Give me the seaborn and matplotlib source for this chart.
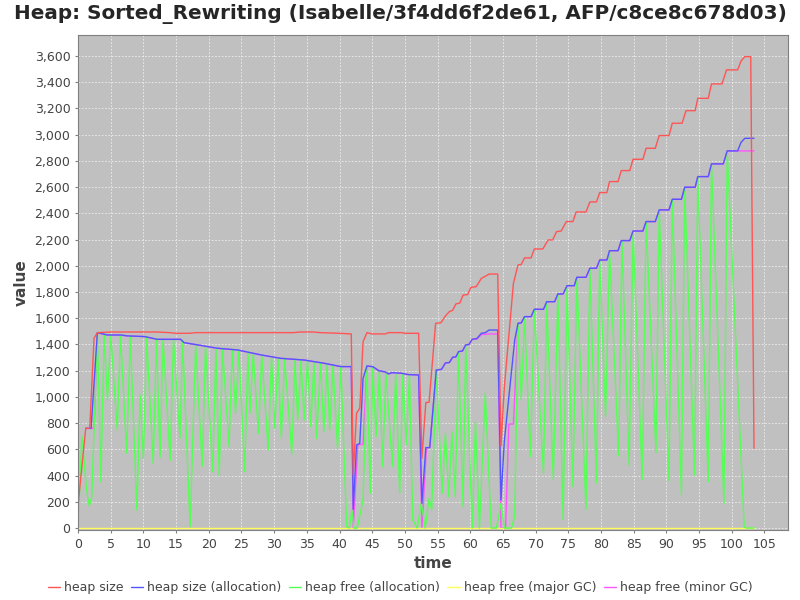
import matplotlib
matplotlib.use("Agg")
import matplotlib.pyplot as plt
import matplotlib.ticker as mticker
import seaborn as sns
import pandas as pd

# heap size
size_t = [0.0, 1.18, 1.8, 2.45, 2.96, 5, 12, 14, 15, 17, 18, 33, 34, 36, 37, 40, 41.8,
          42.1, 42.6, 43.1, 43.6, 44.2, 45.0, 47.0, 47.5, 49.5, 50.0, 52.1,
          52.6, 53.2, 53.7, 54.7, 55.5, 56.2, 56.8, 57.3, 57.8, 58.4, 58.9, 59.6, 60.1, 60.9,
          61.7, 62.3, 62.9, 64.2, 64.7, 65.2, 66.6, 67.3, 67.8, 68.3, 69.3, 69.8, 71.1,
          71.9, 72.6, 73.2, 73.9, 74.7, 75.7, 76.2, 77.7, 78.3, 79.3, 79.8, 80.9, 81.3, 82.6,
          83.1, 84.4, 84.9, 86.4, 86.9, 88.3, 88.9, 90.4, 90.9, 92.4, 93.0, 94.4, 94.8, 96.4,
          96.9, 98.5, 99.2, 100.9, 101.4, 102.0, 102.9, 103.4]
size_v = [170, 760, 760, 1447, 1490, 1495, 1495, 1490, 1485, 1485, 1490, 1490, 1495, 1495, 1490, 1485, 1480,
          404, 875, 913, 1421, 1490, 1480, 1480, 1490, 1490, 1485, 1485,
          531, 956, 960, 1561, 1565, 1617, 1650, 1660, 1709, 1715, 1777, 1780, 1836, 1840,
          1904, 1920, 1937, 1937, 625, 1068, 1866, 2006, 2010, 2060, 2060, 2128, 2128,
          2197, 2197, 2260, 2265, 2337, 2337, 2410, 2410, 2487, 2487, 2558, 2558, 2642, 2642,
          2726, 2726, 2812, 2812, 2896, 2896, 2993, 2993, 3087, 3087, 3183, 3183, 3277, 3277,
          3387, 3387, 3494, 3494, 3560, 3595, 3595, 608]

# heap size (allocation)
alloc_t = [1.18, 2.0, 2.96, 4.5, 6.5, 7.6, 10.2, 12.1, 15.7, 16.2, 19.3, 21.3, 24.4, 28.0, 31.0,
           34.6, 37.7, 40.2, 41.8, 42.1, 42.6, 43.1, 43.6, 44.2, 45.1, 46.0, 47.0, 47.5, 48.0,
           49.5, 50.5, 52.1, 52.6, 53.2, 53.8, 54.8, 55.6, 56.2, 56.8, 57.3, 57.8, 58.2, 58.8,
           59.3, 59.8, 60.3, 61.0, 61.7, 62.3, 62.9, 64.2, 64.7, 65.2, 66.8, 67.3, 67.8, 68.3,
           69.3, 69.8, 71.2, 71.7, 72.9, 73.4, 74.2, 74.8, 75.9, 76.3, 77.7, 78.3, 79.3, 79.8,
           80.9, 81.3, 82.6, 83.1, 84.4, 84.9, 86.4, 86.9, 88.3, 88.9, 90.4, 90.9, 92.3, 92.8,
           94.4, 94.8, 96.4, 96.9, 98.7, 99.3, 100.9, 101.4, 102.0, 103.4]
alloc_v = [760, 760, 1490, 1472, 1472, 1465, 1460, 1439, 1439, 1414, 1388, 1371, 1358, 1320, 1294,
           1281, 1256, 1231, 1231, 143, 633, 646, 1142, 1236, 1230, 1200, 1190, 1175, 1185,
           1180, 1170, 1167, 188, 613, 613, 1205, 1210, 1259, 1262, 1302, 1305, 1345, 1350,
           1396, 1400, 1439, 1445, 1485, 1490, 1510, 1510, 213, 658, 1434, 1561, 1565, 1612,
           1612, 1668, 1668, 1726, 1726, 1785, 1785, 1848, 1848, 1912, 1912, 1981, 1981, 2044,
           2044, 2115, 2115, 2192, 2192, 2265, 2265, 2337, 2337, 2426, 2426, 2507, 2507, 2599,
           2599, 2680, 2680, 2777, 2777, 2876, 2876, 2940, 2972, 2972]

# heap free (allocation)
free_t = [0.0, 0.6, 1.3, 1.7, 2.1, 2.96, 3.5, 4.0, 4.5, 5.0, 6.0, 6.5, 7.45, 8.0, 9.0, 9.5, 10.0,
          10.5, 11.5, 12.0, 12.55, 13.0, 14.1, 14.6, 15.6, 16.0, 17.15, 18.0, 19.0, 19.5, 20.6,
          21.1, 21.6, 22.1, 23.1, 23.6, 24.1, 24.6, 25.5, 26.0, 26.3, 26.8, 27.6, 28.1, 29.1,
          29.6, 30.1, 30.6, 31.1, 31.6, 32.7, 33.2, 33.6, 34.1, 34.6, 35.1, 35.6, 36.1, 36.5,
          37.1, 37.6, 38.1, 38.5, 39.0, 39.7, 40.2, 41.1, 41.5, 41.9, 42.2, 42.7, 43.6, 44.2,
          44.7, 45.1, 45.6, 46.1, 46.6, 47.1, 48.1, 48.6, 49.2, 49.7, 50.2, 50.7, 51.2, 51.9,
          52.5, 53.1, 53.7, 54.1, 54.8, 55.7, 56.2, 56.7, 57.2, 57.7, 58.2, 58.9, 59.3, 60.3,
          60.8, 61.4, 62.3, 63.2, 64.0, 64.7, 65.2, 66.3, 66.8, 67.3, 67.8, 68.3, 69.2, 69.8,
          71.2, 71.7, 72.7, 73.4, 74.2, 74.8, 75.7, 76.3, 77.7, 78.3, 79.3, 79.8, 80.7, 81.3,
          82.7, 83.2, 84.3, 84.9, 86.3, 86.9, 88.4, 88.9, 90.4, 90.9, 92.3, 92.8, 94.3, 94.8,
          96.4, 96.9, 98.8, 99.3, 101.9, 102.2, 103.4]
free_v = [0, 700, 300, 170, 230, 1490, 353, 1480, 976, 1475, 747, 1472, 572, 1465, 137, 1014, 530,
          1458, 490, 1445, 540, 1439, 515, 1439, 684, 1430, 10, 1400, 470, 1388, 430,
          1375, 400, 1370, 620, 1365, 875, 1358, 430, 1345, 875, 1335, 720, 1320, 595,
          1305, 760, 1298, 685, 1294, 565, 1290, 824, 1283, 824, 1280, 773, 1270, 684,
          1262, 735, 1250, 747, 1240, 608, 1231, 10, 0, 137, 0, 0, 213, 1236,
          264, 1230, 697, 1200, 468, 1190, 468, 1185, 264, 1180, 633, 1170, 61, 0,
          190, 0, 226, 137, 1205, 264, 722, 239, 735, 239, 1345, 163, 1396, 0,
          811, 0, 1027, 0, 0, 188, 0, 0, 86, 1561, 976, 1612, 544, 1668,
          417, 1726, 372, 1785, 66, 1848, 315, 1912, 143, 1981, 346, 2044, 849, 2115,
          549, 2192, 480, 2265, 372, 2337, 575, 2426, 361, 2507, 252, 2599, 404, 2680,
          353, 2777, 188, 2876, 10, 0, 0]

# heap free (major GC)
major_t = [0.0, 103.4]
major_v = [0, 0]

# heap free (minor GC)
minor_t = [1.18, 2.45, 2.96, 4.5, 6.5, 7.6, 10.2, 12.1, 15.7, 16.2, 19.3, 21.3, 24.4, 28.0, 31.0,
           34.6, 37.7, 40.2, 41.8, 42.1, 42.8, 43.6, 44.2, 45.1, 46.0, 47.0, 47.5, 48.0,
           49.5, 50.5, 52.1, 52.6, 53.3, 53.8, 54.8, 55.6, 56.2, 56.8, 57.3, 57.8, 58.2, 58.8,
           59.3, 59.8, 60.3, 61.0, 61.7, 62.9, 64.2, 64.7, 65.4, 65.9, 66.6, 67.3, 67.8, 68.3,
           69.3, 69.8, 71.2, 71.7, 72.9, 73.4, 74.2, 74.8, 75.9, 76.3, 77.7, 78.3, 79.3, 79.8,
           80.9, 81.3, 82.6, 83.1, 84.4, 84.9, 86.4, 86.9, 88.3, 88.9, 90.4, 90.9, 92.3, 92.8,
           94.4, 94.8, 96.4, 96.9, 98.7, 99.3, 103.4]
minor_v = [760, 760, 1490, 1472, 1472, 1465, 1460, 1439, 1439, 1414, 1388, 1371, 1358, 1320, 1294,
           1281, 1256, 1231, 1231, 0, 633, 640, 1236, 1230, 1200, 1190, 1175, 1185,
           1180, 1170, 1167, 0, 613, 613, 1205, 1210, 1259, 1262, 1302, 1305, 1345, 1350,
           1396, 1400, 1439, 1440, 1475, 1480, 1480, 0, 0, 793, 793, 1561, 1565, 1612,
           1612, 1668, 1668, 1726, 1726, 1785, 1785, 1848, 1848, 1912, 1912, 1981, 1981, 2044,
           2044, 2115, 2115, 2192, 2192, 2265, 2265, 2337, 2337, 2426, 2426, 2507, 2507, 2599,
           2599, 2680, 2680, 2777, 2777, 2876, 2876]

series_names = ["heap size", "heap size (allocation)", "heap free (allocation)",
                "heap free (major GC)", "heap free (minor GC)"]
series_colors = ["#ff5555", "#5555ff", "#55ff55", "#ffff55", "#ff55ff"]

frames = []
for name, t, v in zip(series_names,
                      [size_t, alloc_t, free_t, major_t, minor_t],
                      [size_v, alloc_v, free_v, major_v, minor_v]):
    frames.append(pd.DataFrame({"time": t, "value": v, "series": name}))
df = pd.concat(frames, ignore_index=True)

sns.set_style("ticks", {"axes.facecolor": "#c0c0c0"})
plt.rcParams['font.family'] = ['DejaVu Sans']

fig = plt.figure(figsize=(8, 6), dpi=100)
ax = fig.add_axes([0.0975, 0.1167, 0.8875, 0.825])

# JFreeChart draws the first series on top, so plot in reverse
for name, color in reversed(list(zip(series_names, series_colors))):
    sub = df[df["series"] == name]
    sns.lineplot(data=sub, x="time", y="value", color=color, linewidth=1.0,
                 sort=False, estimator=None, ax=ax, label=name)

ax.set_xlim(0, 108.6)
ax.set_ylim(-15, 3760)
ax.set_xticks(range(0, 106, 5))
ax.set_yticks(range(0, 3601, 200))
ax.yaxis.set_major_formatter(mticker.StrMethodFormatter("{x:,.0f}"))
ax.grid(True, color="#eeeeee", linestyle=(0, (2, 2)), linewidth=0.6)
ax.set_axisbelow(True)
for s in ax.spines.values():
    s.set_color("#808080")
ax.tick_params(colors="#808080", labelcolor="#444444", labelsize=9, length=2)

ax.set_xlabel("time", fontsize=11, fontweight="bold", color="#444444")
ax.set_ylabel("value", fontsize=11, fontweight="bold", color="#444444")
fig.suptitle("Heap: Sorted_Rewriting (Isabelle/3f4dd6f2de61, AFP/c8ce8c678d03)",
             fontsize=14.4, fontweight="bold", y=0.993)

handles, labels = ax.get_legend_handles_labels()
order = [labels.index(n) for n in series_names]
ax.legend([handles[i] for i in order], [labels[i] for i in order],
          loc="center", bbox_to_anchor=(0.5, 0.02), bbox_transform=fig.transFigure,
          ncol=5, frameon=False, fontsize=9, handlelength=1.0, handletextpad=0.3,
          columnspacing=0.6, labelcolor="#444444")

fig.savefig("out.png", dpi=100)
